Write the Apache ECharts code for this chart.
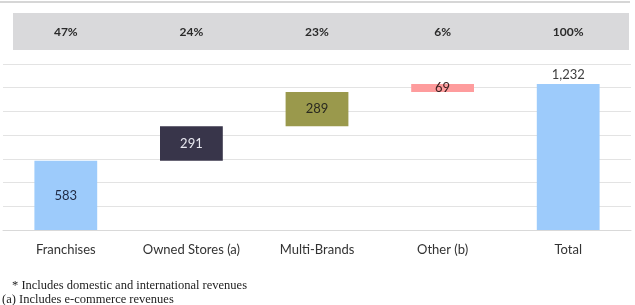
<!DOCTYPE html>
<html>
<head>
<meta charset="utf-8">
<script src="https://cdn.jsdelivr.net/npm/echarts@6/dist/echarts.min.js"></script>
<style>
html,body{margin:0;padding:0;background:#fff;}
#c{width:635px;height:305px;}
</style>
</head>
<body>
<div id="c"></div>
<script>
var categories = ['Franchises', 'Owned Stores (a)', 'Multi-Brands', 'Other (b)', 'Total'];
var values = [583, 291, 289, 69, 1232];
var shares = ['47%', '24%', '23%', '6%', '100%'];
var isTotal = [false, false, false, false, true];
var barColors = ['#9dcbfb', '#38354a', '#9a994c', '#fe9c9d', '#9dcbfb'];
var labelColors = ['#1f2a44', '#e8e8f0', '#2a2a20', '#3a2020', '#404040'];
var footnotes = ['* Includes domestic and international revenues', '(a) Includes e-commerce revenues'];

var base = [];
var run = 0;
for (var i = 0; i < values.length; i++) {
  if (isTotal[i]) { base.push(0); } else { base.push(run); run += values[i]; }
}

var chart = echarts.init(document.getElementById('c'), null, {renderer: 'canvas'});
var font = 'Lato, "Open Sans", sans-serif';

chart.setOption({
  animation: false,
  grid: {left: 3, right: 4, top: 64, bottom: 75, containLabel: false},
  xAxis: [{
    type: 'category',
    data: categories,
    axisLine: {lineStyle: {color: '#d9d9d9'}},
    axisTick: {show: false},
    axisLabel: {color: '#333', fontFamily: font, fontSize: 13, margin: 13, interval: 0}
  }, {
    type: 'category',
    data: shares,
    position: 'top',
    axisLine: {show: false},
    axisTick: {show: false},
    axisLabel: {color: '#2a2a2a', fontFamily: font, fontSize: 12, fontWeight: 'bold', margin: 26, interval: 0}
  }],
  yAxis: {
    type: 'value', min: 0, max: 1400, interval: 200,
    axisLabel: {show: false},
    axisLine: {show: false},
    axisTick: {show: false},
    splitLine: {lineStyle: {color: '#e3e3e3', width: 1}}
  },
  series: [{
    type: 'bar', stack: 'w', barWidth: '50%',
    itemStyle: {color: 'transparent'},
    data: base, silent: true
  }, {
    type: 'bar', stack: 'w', barWidth: '50%',
    data: values.map(function (v, i) {
      return {
        value: v,
        itemStyle: {color: barColors[i]},
        label: {
          show: true,
          position: isTotal[i] ? 'top' : 'inside',
          distance: 3,
          color: labelColors[i],
          fontFamily: font,
          fontSize: 13,
          formatter: function (p) { return p.value.toLocaleString('en-US'); }
        }
      };
    })
  }],
  graphic: [{
    type: 'line', z: -10,
    shape: {x1: 0, y1: 2, x2: 630, y2: 2},
    style: {stroke: '#c8c8c8', lineWidth: 1.5}
  }, {
    type: 'rect', z: -10,
    shape: {x: 13, y: 13, width: 616, height: 37},
    style: {fill: '#d9d9db'}
  }, {
    type: 'text', x: 12, y: 286,
    style: {text: footnotes[0], font: '12.5px "Liberation Serif", serif', fill: '#222', textVerticalAlign: 'middle', verticalAlign: 'middle'}
  }, {
    type: 'text', x: 2, y: 300,
    style: {text: footnotes[1], font: '12.5px "Liberation Serif", serif', fill: '#222', textVerticalAlign: 'middle', verticalAlign: 'middle'}
  }]
});
</script>
</body>
</html>
